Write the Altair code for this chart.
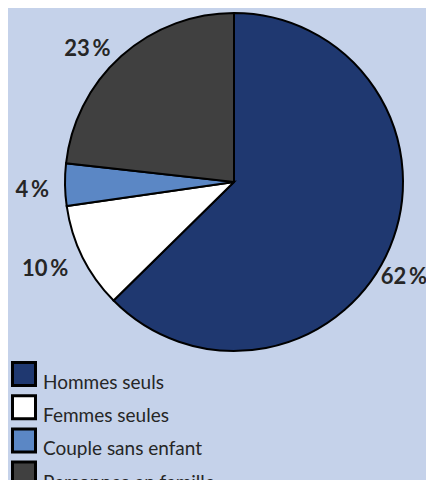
import altair as alt
import pandas as pd

categories = ["Hommes seuls", "Femmes seules", "Couple sans enfant", "Personnes en famille"]
values = [62, 10, 4, 23]
labels = ["62\u2009%", "10\u2009%", "4\u2009%", "23\u2009%"]
colors = ["#1f3870", "#ffffff", "#5b87c5", "#404040"]

df = pd.DataFrame({"cat": categories, "value": values, "label": labels, "order": list(range(len(categories)))})

CX, CY, R = 226, 174, 169

base = alt.Chart(df).encode(
    theta=alt.Theta("value:Q", stack=True),
    order=alt.Order("order:Q"),
)

pie = base.mark_arc(outerRadius=R, stroke="black", strokeWidth=2, x=CX, y=CY).encode(
    color=alt.Color(
        "cat:N",
        scale=alt.Scale(domain=categories, range=colors),
        sort=categories,
        legend=alt.Legend(
            orient="none", legendX=3, legendY=353, title=None,
            symbolType="square", symbolSize=529, symbolStrokeColor="black",
            symbolStrokeWidth=3, symbolOpacity=1,
            labelFont="Lato", labelFontSize=19, labelColor="#262626",
            labelBaseline="top", labelOffset=6, rowPadding=-3.8, padding=0, labelLimit=300,
        ),
    )
)

# mid-angle of every slice, in radians, computed from the data
lab = alt.Chart(df).transform_window(
    cum="sum(value)", sort=[alt.SortField("order")], frame=[None, 0]
).transform_joinaggregate(
    total="sum(value)"
).transform_calculate(
    ang="2 * PI * (datum.cum - datum.value / 2) / datum.total"
)

right_lab = lab.transform_filter("datum.ang < PI").mark_text(
    radius=159, dy=34, align="left", x=CX, y=CY, font="Lato", fontSize=22,
    fontWeight="bold", color="#262626",
).encode(theta=alt.Theta("ang:Q", scale=None), text="label:N")

left_lab = lab.transform_filter("datum.ang >= PI").mark_text(
    radius=185, dy=5, align="right", x=CX, y=CY, font="Lato", fontSize=22,
    fontWeight="bold", color="#262626",
).encode(theta=alt.Theta("ang:Q", scale=None), text="label:N")

chart = (pie + right_lab + left_lab).properties(
    width=418, height=472,
    autosize=alt.AutoSizeParams(type="none"), padding=0,
    background="#c5d2ea",
).configure_view(stroke=None)

chart.save("out.html", embed_options={"renderer": "svg", "actions": False})
